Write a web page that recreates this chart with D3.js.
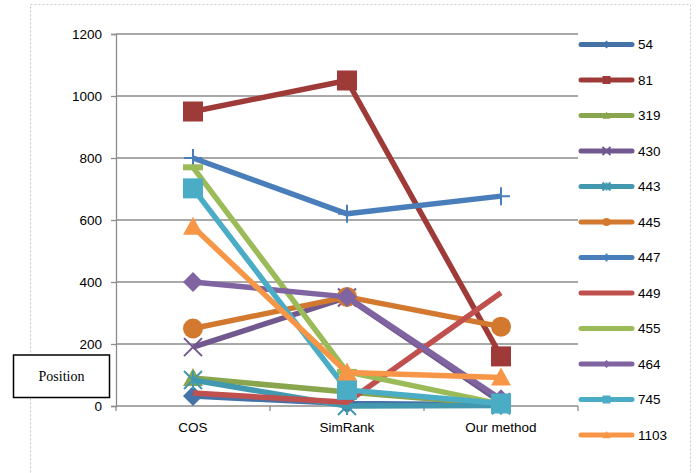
<!DOCTYPE html>
<html>
<head>
<meta charset="utf-8">
<script src="https://cdn.jsdelivr.net/npm/d3@7"></script>
<style>
  html, body { margin: 0; padding: 0; background: #fff; }
  svg { display: block; }
</style>
</head>
<body>
<svg id="chart" width="699" height="473"></svg>
<script>
// Methods compared along the x axis
const methods = ["COS", "SimRank", "Our method"];
const yTicks = [0, 200, 400, 600, 800, 1000, 1200];

// Position of each query item under every method
const seriesNames = ["54", "81", "319", "430", "443", "445", "447", "449", "455", "464", "745", "1103"];
const pos54   = [32, 8, 4];
const pos81   = [950, 1050, 160];
const pos319  = [90, 45, 5];
const pos430  = [190, 350, 12];
const pos443  = [84, 0, 2];
const pos445  = [250, 352, 256];
const pos447  = [800, 620, 677];
const pos449  = [42, 12, 365];
const pos455  = [770, 110, 6];
const pos464  = [400, 352, 22];
const pos745  = [702, 52, 8];
const pos1103 = [578, 108, 92];
const seriesValues = [pos54, pos81, pos319, pos430, pos443, pos445, pos447, pos449, pos455, pos464, pos745, pos1103];

const colors = ["#4572A7", "#9E3B38", "#89A54E", "#71588F", "#4198AF", "#D2792F",
                "#4A7EBB", "#C0504D", "#9BBB59", "#8064A2", "#4BACC6", "#F79646"];
const markers = ["diamond", "square", "triangle", "x", "star", "circle",
                 "plus", "none", "dash", "diamond", "square", "triangle"];

const sans = "Liberation Sans, Arial, sans-serif";
const svg = d3.select("#chart");

// outer chart frame
svg.append("rect")
  .attr("x", 30.5).attr("y", 4.5).attr("width", 660).attr("height", 480)
  .attr("fill", "none").attr("stroke", "#c8c8c8").attr("stroke-dasharray", "2,2");

const x = d3.scalePoint().domain(methods).range([116, 578]).padding(0.5);
const y = d3.scaleLinear().domain([0, 1200]).range([406, 34]);

// horizontal gridlines
svg.append("g").selectAll("line")
  .data(yTicks.filter(d => d > 0))
  .join("line")
  .attr("x1", 116).attr("x2", 578)
  .attr("y1", d => y(d)).attr("y2", d => y(d))
  .attr("stroke", "#8c8c8c").attr("stroke-width", 1.3);

// y axis
const yAxis = svg.append("g").attr("transform", "translate(116,0)")
  .call(d3.axisLeft(y).tickValues(yTicks).tickFormat(d3.format("d")).tickSize(5).tickPadding(9));
yAxis.attr("font-family", sans).attr("font-size", 13.5);
yAxis.select(".domain").attr("stroke", "#8c8c8c").attr("stroke-width", 1.3);
yAxis.selectAll(".tick line").attr("stroke", "#8c8c8c").attr("stroke-width", 1.3);
yAxis.selectAll(".tick text").attr("fill", "#000");

// x axis with boundary ticks between categories
const xBand = d3.scaleBand().domain(methods).range([116, 578]);
const xg = svg.append("g");
xg.append("line").attr("x1", 116).attr("x2", 578).attr("y1", 406).attr("y2", 406)
  .attr("stroke", "#8c8c8c").attr("stroke-width", 1.3);
const bounds = methods.map(m => xBand(m)).concat([xBand(methods[2]) + xBand.bandwidth()]);
xg.selectAll("line.tk").data(bounds).join("line").attr("class", "tk")
  .attr("x1", d => d).attr("x2", d => d).attr("y1", 406).attr("y2", 411)
  .attr("stroke", "#8c8c8c").attr("stroke-width", 1.3);
xg.selectAll("text").data(methods).join("text")
  .attr("x", d => x(d)).attr("y", 432)
  .attr("text-anchor", "middle").attr("font-size", 13.5).attr("font-family", sans).attr("fill", "#000")
  .text(d => d);

// marker drawing
function drawMarker(g, type, color, size) {
  const h = size / 2;
  if (type === "square") {
    g.append("rect").attr("x", -h).attr("y", -h).attr("width", size).attr("height", size)
      .attr("fill", color);
  } else if (type === "diamond") {
    g.append("path").attr("d", `M0,${-h}L${h},0L0,${h}L${-h},0Z`).attr("fill", color);
  } else if (type === "triangle") {
    g.append("path").attr("d", `M0,${-h}L${h},${h * 0.8}L${-h},${h * 0.8}Z`).attr("fill", color);
  } else if (type === "circle") {
    g.append("circle").attr("r", h).attr("fill", color);
  } else if (type === "x") {
    g.append("path").attr("d", `M${-h},${-h}L${h},${h}M${h},${-h}L${-h},${h}`)
      .attr("stroke", color).attr("stroke-width", 2).attr("fill", "none");
  } else if (type === "star") {
    g.append("path").attr("d", `M${-h},${-h}L${h},${h}M${h},${-h}L${-h},${h}M0,${-h}L0,${h}`)
      .attr("stroke", color).attr("stroke-width", 2).attr("fill", "none");
  } else if (type === "plus") {
    g.append("path").attr("d", `M${-h},0L${h},0M0,${-h}L0,${h}`)
      .attr("stroke", color).attr("stroke-width", 2).attr("fill", "none");
  } else if (type === "dash") {
    g.append("rect").attr("x", -h).attr("y", -3).attr("width", size).attr("height", 6)
      .attr("fill", color);
  }
}

const line = d3.line().x((d, i) => x(methods[i])).y(d => y(d));

// series lines with markers
seriesValues.forEach((vals, s) => {
  const g = svg.append("g");
  g.append("path").datum(vals).attr("d", line)
    .attr("fill", "none").attr("stroke", colors[s]).attr("stroke-width", 5.5)
    .attr("stroke-linejoin", "round");
  vals.forEach((v, i) => {
    const mg = g.append("g").attr("transform", `translate(${x(methods[i])},${y(v)})`);
    const size = (markers[s] === "plus" || markers[s] === "x" || markers[s] === "star") ? 18 : 20;
    drawMarker(mg, markers[s], colors[s], size);
  });
});

// legend
const legend = svg.append("g");
seriesNames.forEach((name, s) => {
  const cy = 44.5 + s * 35.5;
  const lg = legend.append("g");
  lg.append("line").attr("x1", 581).attr("x2", 632).attr("y1", cy).attr("y2", cy)
    .attr("stroke", colors[s]).attr("stroke-width", 5).attr("stroke-linecap", "round");
  const mg = lg.append("g").attr("transform", `translate(606.5,${cy})`);
  if (markers[s] !== "dash") drawMarker(mg, markers[s], colors[s], 8);
  lg.append("text").attr("x", 638).attr("y", cy + 4.5).attr("font-size", 13.5)
    .attr("font-family", sans).attr("fill", "#000")
    .text(name);
});

// axis title box
svg.append("rect").attr("x", 13.5).attr("y", 355).attr("width", 96).attr("height", 42.5)
  .attr("fill", "#fff").attr("stroke", "#000").attr("stroke-width", 1.5);
svg.append("text").attr("x", 61.5).attr("y", 381).attr("text-anchor", "middle")
  .attr("font-family", "Liberation Serif, Times New Roman, serif").attr("font-size", 14)
  .text("Position");
</script>
</body>
</html>
